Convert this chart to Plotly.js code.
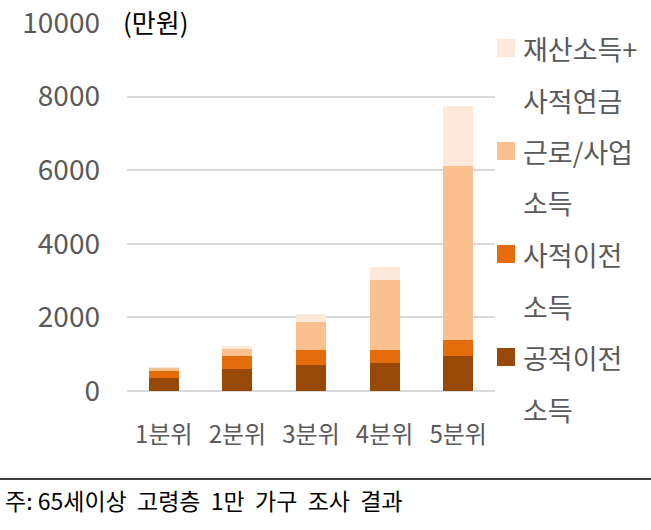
<!DOCTYPE html>
<html>
<head>
<meta charset="utf-8">
<script src="https://cdn.plot.ly/plotly-3.0.1.min.js"></script>
<style>html,body{margin:0;padding:0;background:#fff;}#chart{width:651px;height:530px;}</style>
</head>
<body>
<div id="chart"></div>
<script>
// ---- data ----
const categories = ['1분위', '2분위', '3분위', '4분위', '5분위'];
const publicTransfer = [350, 600, 700, 755, 940];      // 공적이전 소득
const privateTransfer = [195, 355, 405, 370, 435];     // 사적이전 소득
const laborBusiness = [75, 185, 780, 1900, 4735];      // 근로/사업 소득
const propertyPension = [25, 90, 205, 345, 1630];      // 재산소득+사적연금
const seriesNames = ['공적이전 소득', '사적이전 소득', '근로/사업 소득', '재산소득+사적연금'];
const legendLines = [['공적이전', '소득'], ['사적이전', '소득'], ['근로/사업', '소득'], ['재산소득+', '사적연금']];
const yTicks = [0, 2000, 4000, 6000, 8000, 10000];
const unitLabel = '(만원)';
const footnote = '주: 65세이상&nbsp; 고령층&nbsp; 1만&nbsp; 가구&nbsp; 조사&nbsp; 결과';

// ---- style ----
const colors = ['#984807', '#E46C0A', '#FAC090', '#FDE9D9'];
const FONT = '"Noto Sans CJK KR", "Noto Sans", sans-serif';
const M = {l: 127, r: 156, t: 23, b: 139};
const W = 651, H = 530;
const PW = W - M.l - M.r, PH = H - M.t - M.b;
const px2x = px => (px - M.l) / PW;
const px2y = py => (H - M.b - py) / PH;

const seriesValues = [publicTransfer, privateTransfer, laborBusiness, propertyPension];
const traces = seriesValues.map((vals, i) => ({
  type: 'bar',
  x: categories,
  y: vals,
  name: seriesNames[i],
  marker: {color: colors[i], line: {width: 0}},
  hoverinfo: 'x+y+name'
}));

const annotations = [];
const shapes = [];
// unit label
annotations.push({
  xref: 'paper', yref: 'paper', x: px2x(121), y: px2y(22),
  xanchor: 'left', yanchor: 'middle', showarrow: false,
  text: unitLabel, font: {family: FONT, size: 26, color: '#000'}
});
// manual legend (top to bottom: reversed order)
for (let k = 0; k < 4; k++) {
  const i = 3 - k;
  const y1 = 48 + 103 * k;
  shapes.push({
    type: 'rect', xref: 'paper', yref: 'paper',
    x0: px2x(497), x1: px2x(515), y0: px2y(y1 - 9), y1: px2y(y1 + 9),
    fillcolor: colors[i], line: {width: 0}
  });
  legendLines[i].forEach((t, j) => {
    annotations.push({
      xref: 'paper', yref: 'paper', x: px2x(521), y: px2y(y1 + 52 * j),
      xanchor: 'left', yanchor: 'middle', showarrow: false,
      text: t, font: {family: FONT, size: 27, color: '#595959'}
    });
  });
}
// footnote line + text
shapes.push({
  type: 'line', xref: 'paper', yref: 'paper',
  x0: px2x(0), x1: px2x(W), y0: px2y(479), y1: px2y(479),
  line: {color: '#000', width: 1.5}
});
annotations.push({
  xref: 'paper', yref: 'paper', x: px2x(3), y: px2y(500),
  xanchor: 'left', yanchor: 'middle', showarrow: false,
  text: footnote, font: {family: FONT, size: 23, color: '#000'}
});

const layout = {
  width: W, height: H,
  margin: M,
  paper_bgcolor: '#fff', plot_bgcolor: '#fff',
  barmode: 'stack',
  bargap: 0.59,
  showlegend: false,
  font: {family: FONT, color: '#595959'},
  xaxis: {
    type: 'category',
    tickfont: {family: FONT, size: 24, color: '#595959'},
    showgrid: false, zeroline: false, showline: false,
    ticks: '', ticklabelstandoff: 27
  },
  yaxis: {
    range: [0, 10000],
    tickvals: yTicks,
    ticktext: yTicks.map(String),
    tickfont: {family: FONT, size: 28, color: '#595959'},
    showgrid: true, gridcolor: '#d9d9d9', gridwidth: 2,
    zeroline: true, zerolinecolor: '#d9d9d9', zerolinewidth: 2,
    showline: false, ticks: '', ticklabelstandoff: 26
  },
  annotations: annotations,
  shapes: shapes
};

Plotly.newPlot('chart', traces, layout, {displayModeBar: false, staticPlot: true});
</script>
</body>
</html>
